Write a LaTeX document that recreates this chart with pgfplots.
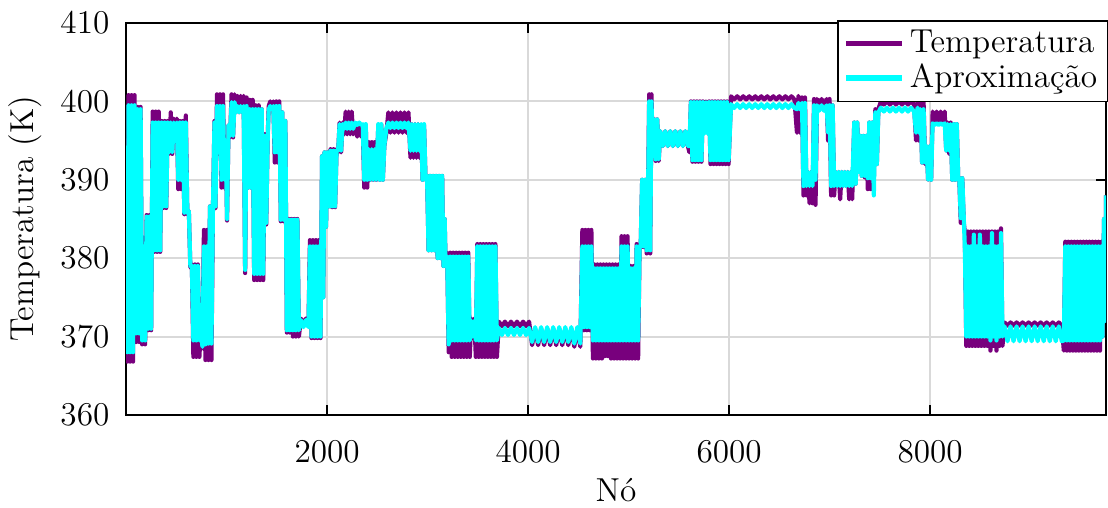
\documentclass[border=0pt]{standalone}
\usepackage{fontspec}
\usepackage{pgfplots}
\usepackage{pgfplotstable}
\pgfplotsset{compat=1.18}
\definecolor{tpurple}{RGB}{120,0,125}
\definecolor{tcyan}{RGB}{0,255,255}
\pgfplotstableread{
n T A
1 385 385
12 366.8 368
25 400.8 399.5
40 366.8 368
55 400.8 399.5
70 366.8 368
85 400.8 399.5
100 369.3 370.4
115 399.3 399
130 369.3 370.4
145 399.3 399
160 369 369.5
175 382.6 381.5
190 369 369.5
205 385.5 385.3
220 370.8 371
235 385.5 385.3
250 370.8 371
265 398.7 397.3
280 380.8 381
295 398.7 397.3
310 380.8 381
325 398.7 397.3
340 380.8 381
355 397.5 397.3
370 386.4 386.6
385 397.5 397.3
400 386.4 386.6
415 397.5 397.3
430 393.3 393.5
445 398.6 397.3
460 393.3 393.5
475 397.8 397.3
490 396.5 396.5
505 397.8 397.3
520 388.8 390
535 397.5 397.3
550 388.8 390
565 397.5 397.3
580 385.6 385.8
595 398.2 397.3
610 385.6 385.8
625 386 386
640 378.8 379
655 379.2 379
670 367.4 369.5
685 379.2 379
700 367.4 369.5
715 379.2 379
730 367.4 369.5
745 371.4 371.2
760 368.5 368.7
775 383.6 381.5
790 367 369
805 383.6 381.5
820 367 369.1
835 386.6 386.6
850 367 369.1
865 386.6 386.6
880 397.5 397.3
890 386.4 386.6
905 400.9 399.4
920 393.3 393.5
935 400.9 399.4
950 389 390
965 400.9 399.4
980 389 390
995 393 393
1005 384.8 385
1020 397 397
1035 395.4 395.6
1050 400.9 399.9
1065 395.4 395.6
1080 400.9 399.9
1095 398.6 398.6
1110 400.7 399.4
1125 398.6 398.6
1140 400.7 399.4
1155 398.6 398.6
1170 400.7 399.4
1185 378.1 378.5
1200 400.5 399.4
1215 389 389
1230 400.2 399
1245 389 389
1260 400.2 399
1275 377.2 378
1290 399.5 399
1305 377.2 378
1320 399.5 399
1335 377.2 378
1350 399 399
1365 377.2 378
1380 395.8 395.6
1395 384.3 384.5
1410 395.8 395.6
1420 399.4 399
1435 400 399.4
1450 399.4 399
1465 400 399.4
1480 392.2 393.5
1495 400 399.4
1510 392.2 393.5
1525 400 399.4
1540 384.7 384.9
1555 398.6 398.6
1570 384.7 384.9
1585 397.5 397.5
1600 370.5 370.8
1615 385 384.9
1630 370.5 370.8
1645 385 384.9
1660 370 370.8
1675 385 384.9
1690 370 370.8
1705 385 384.9
1720 370 370.8
1740 372.3 372.1
1765 371.5 371.2
1790 372.3 372.1
1815 371.5 371.2
1830 382.3 381.5
1845 369.8 370
1860 382.3 381.5
1875 369.8 370
1890 382.3 381.5
1905 369.8 370
1920 382.3 381.5
1935 369.8 370
1950 393 393
1962 375 375
1975 393.5 393.5
1990 384 384
2005 393.5 393.5
2020 386.6 386.6
2035 393.9 393.7
2050 386.5 386.6
2065 393.9 393.7
2080 386.5 386.6
2095 393.9 393.7
2110 393.5 393.7
2125 397.3 397.1
2140 393.5 393.7
2155 397.3 397.1
2170 395.8 396.5
2185 398.7 397.3
2200 395.8 396.5
2215 398.7 397.3
2230 395.8 396.5
2245 398.7 397.3
2260 395.8 396.5
2280 397 397.3
2300 395.5 397
2320 397 397.3
2340 395.5 397
2355 397 397.1
2370 389 390
2385 397 397.1
2400 389 390
2415 394.8 393.9
2430 390 390
2445 394.8 393.9
2460 390 390
2475 394.8 393.9
2490 390 390
2510 397 397.1
2525 390 390
2540 397 397.1
2555 390 390
2570 394.3 394.3
2590 396 396.6
2610 398.6 397.3
2630 396 396.6
2650 398.6 397.3
2670 396 396.6
2690 398.6 397.3
2710 396 396.6
2730 398.6 397.3
2750 396 396.6
2770 398.6 397.3
2790 396 396.6
2810 398.6 397.3
2830 392.8 393.7
2845 397.1 397.1
2860 392.8 393.7
2875 397.1 397.1
2890 392.8 393.7
2905 397.1 397.1
2920 392.8 393.7
2935 397 397.1
2950 390 390
2965 397 397.1
2980 390 390
2995 390.5 390.5
3010 381 381
3025 390.5 390.5
3040 381 381
3055 390.5 390.5
3070 381 381
3085 390.5 390.5
3100 380 380
3115 390.5 390.5
3130 380 380
3145 390.5 390.5
3158 379 379
3170 385 385
3180 379 379
3195 380.7 380.2
3210 368 369
3225 380.7 380.2
3240 367.4 369.5
3255 380.7 380.2
3270 367.4 369.5
3285 380.7 380.2
3300 367.4 369.5
3315 380.7 380.2
3330 367.4 369.5
3345 380.7 380.2
3360 367.4 369.5
3375 380.7 380.2
3390 367.4 369.5
3405 380.7 380.2
3420 367.4 369.5
3435 372.3 372
3450 369.8 370
3465 372.3 372
3480 367.4 369.5
3495 381.8 381.5
3510 367.4 369.5
3525 381.8 381.5
3540 367.4 369.5
3555 381.8 381.5
3570 367.4 369.5
3585 381.8 381.5
3600 367.4 369.5
3615 381.8 381.5
3630 367.4 369.5
3645 381.8 381.5
3660 367.4 369.5
3675 381.8 381.5
3690 367.4 369.5
3710 371.9 371.1
3740 371.3 370.2
3770 371.9 371.1
3800 371.3 370.2
3830 371.9 371.1
3860 371.3 370.2
3890 371.9 371.1
3920 371.3 370.2
3950 371.9 371.1
3980 371.3 370.2
4010 371.9 371.1
4040 368.9 369.3
4070 371 371.2
4100 368.9 369.3
4130 371 371.2
4160 368.9 369.3
4190 371 371.2
4220 368.9 369.3
4250 371 371.2
4280 368.9 369.3
4310 371 371.2
4340 368.9 369.3
4370 371 371.2
4400 368.9 369.3
4430 371 371.2
4460 368.7 369.1
4490 371 371.2
4520 368.7 369.1
4540 383.6 381.5
4555 370.8 371.2
4570 383.6 381.5
4585 370.8 371.2
4600 383.6 381.5
4615 370.8 371.2
4630 383.6 381.5
4645 367.2 369.5
4660 379.2 378.7
4675 367.2 369.5
4690 379.2 378.7
4705 367.2 369.5
4720 379.2 378.7
4735 367.2 369.5
4750 379.2 378.7
4765 367.5 369.5
4780 379.2 378.7
4795 367.5 369.5
4810 379.2 378.7
4825 367.2 369.5
4840 379.2 378.7
4855 367.2 369.5
4870 379.2 378.7
4885 367.2 369.5
4900 379.2 378.7
4915 367.2 369.5
4930 382.8 381.5
4945 367.2 369.5
4960 382.8 381.5
4975 367.2 369.5
4990 382.8 381.5
5005 367.2 369.5
5020 379 378.7
5035 367.2 369.5
5050 379 378.7
5065 367.2 369.5
5080 381.8 381.5
5095 367.2 369.5
5110 381.8 381.5
5120 381.4 381.5
5135 390 390
5150 381.4 381.5
5165 390 390
5180 380.6 381
5195 390 390
5205 400.9 400
5215 380.6 381
5228 400.9 400
5240 393 393
5255 397.7 397.7
5270 392.4 392.6
5285 397.7 397.7
5300 392.4 392.6
5315 396.2 396.2
5340 394.3 394.3
5365 396.2 396.2
5390 394.3 394.3
5415 396.2 396.2
5440 394.3 394.3
5465 396.2 396.2
5490 394.3 394.3
5515 396.2 396.2
5540 394.3 394.3
5565 396.2 396.2
5590 394.3 394.3
5605 393.5 394.3
5620 400 399.9
5635 392.3 392.5
5650 400 399.9
5665 392.3 392.5
5680 400 399.9
5695 392.3 392.5
5710 400 399.9
5725 392.3 392.5
5740 400 399.9
5755 396 395.9
5770 400 399.9
5785 396 395.9
5800 400 399.9
5815 392 392.5
5830 400 399.9
5845 392 392.5
5860 400 399.9
5875 392 392.5
5890 400 399.9
5905 392 392.5
5920 400 399.9
5935 392 392.5
5950 400 399.9
5965 392 392.5
5980 400 399.9
5995 392 392.5
6020 400.65 399.65
6050 400.25 399.15
6080 400.65 399.65
6110 400.25 399.15
6140 400.65 399.65
6170 400.25 399.15
6200 400.65 399.65
6230 400.25 399.15
6260 400.65 399.65
6290 400.25 399.15
6320 400.65 399.65
6350 400.25 399.15
6380 400.65 399.65
6410 400.25 399.15
6440 400.65 399.65
6470 400.25 399.15
6500 400.65 399.65
6530 400.25 399.15
6560 400.65 399.65
6590 400.25 399.15
6620 400.65 399.65
6650 400.25 399.15
6675 396 399
6690 400.7 399.8
6705 396 399
6725 400.5 399.8
6740 388 389.2
6755 400.5 399.8
6770 388 389.2
6785 391 391
6800 387 389.2
6815 391 391
6830 387 389.2
6845 400.3 399.5
6860 386.8 390
6875 400.3 399.5
6895 399.5 398.8
6920 400.3 399.5
6945 399.5 398.8
6970 400.3 399.5
6985 395 396
7000 400.3 399.5
7015 388 389.2
7030 399.5 399.5
7045 388 389.2
7060 391 391
7075 389.2 389.2
7090 391 391
7105 387.5 389.2
7120 391 391
7135 389.2 389.2
7150 391 391
7165 389.2 389.2
7180 391 391
7195 387.5 389.2
7210 391 391
7225 387.5 389.2
7245 397.3 397.3
7260 389.5 389.5
7275 397.3 397.3
7290 391 391
7305 395.6 395.6
7320 390.5 390.5
7335 395.6 395.6
7350 390.3 390.5
7365 395.6 395.6
7380 388.8 390.2
7395 397.3 397.3
7410 388.8 390.2
7425 397.3 397.3
7440 390 388
7455 399 398.6
7470 392 392
7485 399 398.6
7510 400 399.2
7540 399.6 398.7
7570 400 399.2
7600 399.6 398.7
7630 400 399.2
7660 399.6 398.7
7690 400 399.2
7720 399.6 398.7
7750 400 399.2
7780 399.6 398.7
7810 400 399.2
7840 399.6 398.7
7860 395 396
7875 400 399.2
7890 395 396
7905 399.9 399
7920 392.2 392.2
7935 399.9 399
7950 392 392.2
7965 394.3 394.3
7980 390 390
7995 394.3 394.3
8010 390 390
8025 398.7 397.2
8045 397.3 397
8065 398.7 397.2
8085 397.3 397
8105 398.7 397.2
8125 397.3 397
8145 398.7 397.2
8160 393.7 393.7
8175 397.3 397.1
8190 393.3 393.7
8205 397.3 397.1
8220 390 390
8235 397.1 397.1
8250 390 390
8265 397.1 397.1
8280 390 390
8290 390.2 390.2
8305 384.5 385.1
8320 390.2 390.2
8335 384.5 385.1
8345 383.4 381.5
8360 368.8 370
8375 383.4 381.5
8390 368.8 370
8405 383.4 381.5
8420 368.8 370
8435 383.4 383
8450 368.8 370
8465 383.4 381.5
8480 368.8 370
8495 383.4 383
8510 368.8 370
8525 383.4 381.5
8540 368.8 370
8555 383.4 381.5
8570 368.8 370
8585 383.4 381.5
8600 368.2 369.5
8615 383.4 383.2
8630 368.8 370
8645 383.4 381.5
8660 368.2 369.5
8675 383.4 381.5
8690 368.8 370
8705 383.8 383.2
8720 368.8 370
8740 371.8 371.3
8770 371.4 369.4
8800 371.8 371.3
8830 371.4 369.4
8860 371.8 371.3
8890 371.4 369.4
8920 371.8 371.3
8950 371.4 369.4
8980 371.8 371.3
9010 371.4 369.4
9040 371.8 371.3
9070 371.4 369.4
9100 371.8 371.3
9130 371.4 369.4
9160 371.8 371.3
9190 371.4 369.4
9220 371.8 371.3
9250 371.4 369.4
9280 371.8 371.3
9310 371.4 369.4
9330 368.2 369.5
9345 382.1 381.5
9360 368.2 369.5
9375 382.1 381.5
9390 368.2 369.5
9405 382.1 381.5
9420 368.2 369.5
9435 382.1 381.5
9450 368.2 369.5
9465 382.1 381.5
9480 368.2 369.5
9495 382.1 381.5
9510 368.2 369.5
9525 382.1 381.5
9540 368.2 369.5
9555 382.1 381.5
9570 368.2 369.5
9585 382.1 381.5
9600 368.2 369.5
9615 382.1 381.5
9630 368.2 369.5
9645 382.1 381.5
9660 368.2 369.5
9675 382.1 381.5
9690 368.2 369.5
9705 382.1 381.5
9715 370 370
9730 385 385
9740 372 372
9750 388 388
}\datatable
\begin{document}
\begin{tikzpicture}
\begin{axis}[
  name=ax,
  scale only axis,
  width=353.8pt, height=141.5pt,
  xmin=0, xmax=9750, ymin=360, ymax=410,
  xtick={2000,4000,6000,8000},
  ytick={360,370,380,390,400,410},
  scaled x ticks=false,
  /pgf/number format/1000 sep={},
  tick align=inside,
  major tick length=3.5pt,
  tick style={black, line width=0.6pt},
  axis line style={black, line width=0.6pt},
  grid=major,
  major grid style={gray!30, line width=0.7pt},
  ticklabel style={font=\large},
  xticklabel style={yshift=-6pt},
  yticklabel style={xshift=-2.5pt},
  xlabel={Nó},
  ylabel={Temperatura (K)},
  every axis x label/.style={at={(axis description cs:0.5,-0.191)}, anchor=center, font=\large},
  every axis y label/.style={at={(axis description cs:-0.103,0.5)}, anchor=center, rotate=90, font=\large},
  legend style={at={(rel axis cs:1.003,1.008)}, anchor=north east, draw=black, line width=0.6pt, fill=white, font=\large, inner xsep=2pt, inner ysep=1.5pt, row sep=-1.5pt},
  legend cell align=left,
  legend image code/.code={\draw[#1, line width=2pt] (0cm,0cm) -- (0.7cm,0cm);},
]
\addplot[tpurple, line width=1.5pt, line join=round] table[x=n, y=T] \datatable;
\addlegendentry{Temperatura}
\addplot[tcyan, line width=1.5pt, line join=round] table[x=n, y=A] \datatable;
\addlegendentry{Aproximação}
\end{axis}
\pgfresetboundingbox
\path[use as bounding box] ([xshift=-45.5pt,yshift=-33.6pt]ax.south west) rectangle ([xshift=0.72pt,yshift=8.3pt]ax.north east);
\end{tikzpicture}
\end{document}
